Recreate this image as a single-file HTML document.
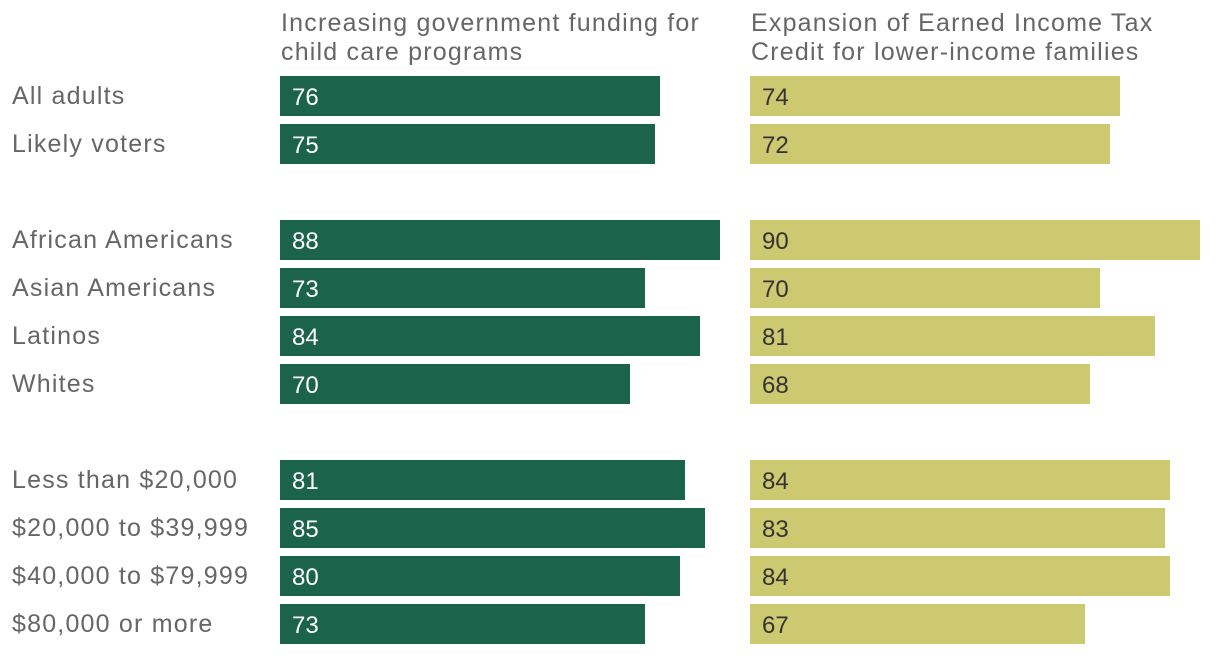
<!DOCTYPE html>
<html><head><meta charset="utf-8"><style>
body{margin:0;background:#fff;width:1220px;height:654px;overflow:hidden;font-family:"Liberation Sans",sans-serif;}
text{font-family:"Liberation Sans",sans-serif;}
.lbl{font-size:25px;letter-spacing:1.2px;fill:#666;}
</style></head><body>
<svg id="chart" width="1220" height="654" xmlns="http://www.w3.org/2000/svg">
<text class="lbl" x="281" y="31">Increasing government funding for</text>
<text class="lbl" x="281" y="60">child care programs</text>
<text class="lbl" x="751" y="31">Expansion of Earned Income Tax</text>
<text class="lbl" x="751" y="60">Credit for lower-income families</text>
<g id="marks"></g>
</svg>
<script>
const categories = ["All adults","Likely voters","African Americans","Asian Americans","Latinos","Whites","Less than $20,000","$20,000 to $39,999","$40,000 to $79,999","$80,000 or more"];
const childCare = [76,75,88,73,84,70,81,85,80,73];
const eitc = [74,72,90,70,81,68,84,83,84,67];
const rowSlots = [0,1,3,4,5,6,8,9,10,11];
const NS="http://www.w3.org/2000/svg";
const g=document.getElementById('marks');
const yCenter=i=>96+rowSlots[i]*48;
const xScale=(v,x0)=>x0+v*5;
function mk(tag,attrs){const e=document.createElementNS(NS,tag);for(const k in attrs)e.setAttribute(k,attrs[k]);g.appendChild(e);return e;}
categories.forEach((c,i)=>{
  const y=yCenter(i);
  const l=mk('text',{x:12,y:y+8,'class':'lbl'});
  l.textContent=c;
  
  
  [[childCare,280,'#1b634a','#fff','child-care-bar'],[eitc,750,'#cdc971','#333','eitc-bar']].forEach(([arr,x0,col,tc,name])=>{
    const r=mk('rect',{x:x0,y:y-20,width:xScale(arr[i],x0)-x0,height:40,fill:col});
    
    
    const t=mk('text',{x:x0+12,y:y+9,'font-size':24,fill:tc});
    t.textContent=arr[i];
    
    
  });
});
</script>
</body></html>
